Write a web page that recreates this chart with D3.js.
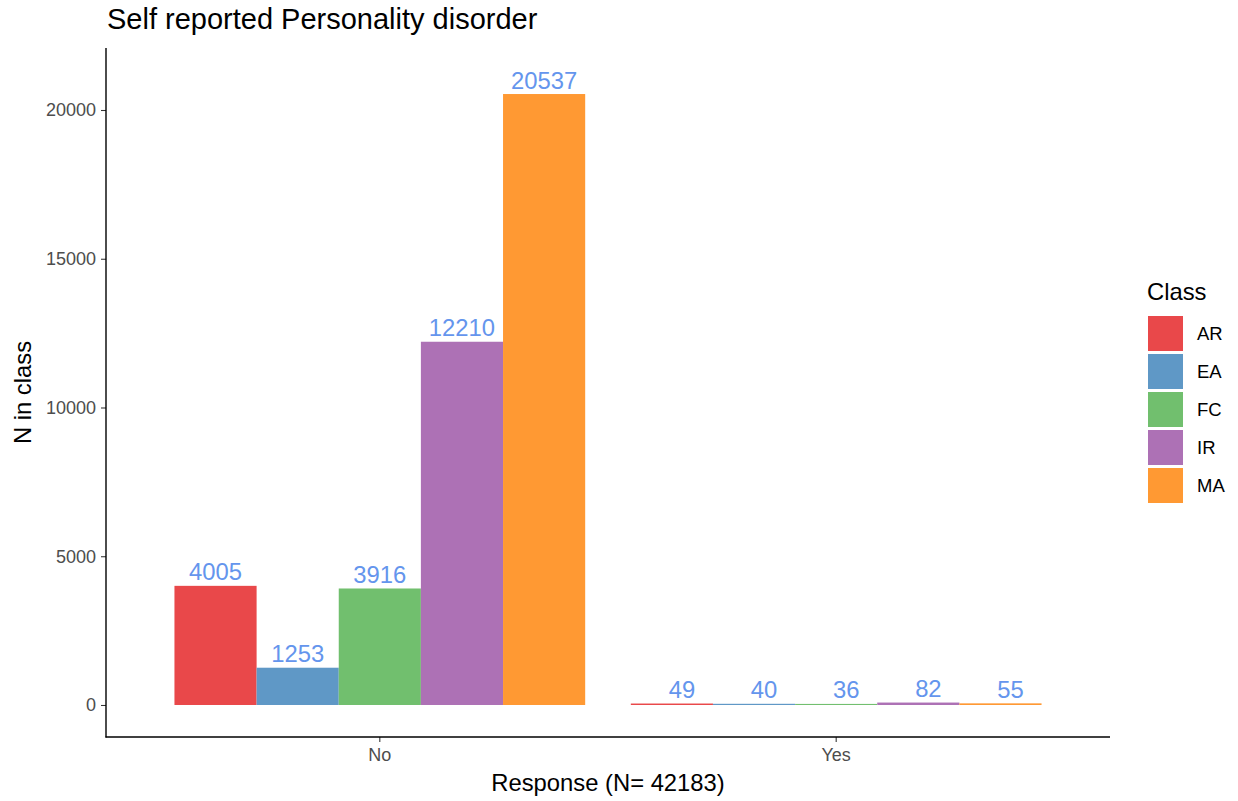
<!DOCTYPE html>
<html>
<head>
<meta charset="utf-8">
<script src="https://cdn.jsdelivr.net/npm/d3@7"></script>
<style>
  body { margin: 0; background: #fff; }
  text { font-family: "Liberation Sans", Arial, sans-serif; }
</style>
</head>
<body>
<svg id="chart" width="1238" height="801"></svg>
<script>
const responses = ["No", "Yes"];
const classes = ["AR", "EA", "FC", "IR", "MA"];
const valuesNo = [4005, 1253, 3916, 12210, 20537];
const valuesYes = [49, 40, 36, 82, 55];
const yTicks = [0, 5000, 10000, 15000, 20000];
const colors = ["#E9484A", "#5F98C6", "#71BF6E", "#AD71B5", "#FF9933"];
const labelNudge = [0, 0.022]; // horizontal label nudge per response group (fraction of band step)

(function () {
const data = [];
responses.forEach((r, i) => {
  const vals = i === 0 ? valuesNo : valuesYes;
  classes.forEach((c, j) => data.push({ response: r, ri: i, cls: c, value: vals[j] }));
});

const svg = d3.select("#chart");
const pLeft = 106, pRight = 1110, pTop = 48, pBottom = 737;

const x = d3.scaleBand().domain(responses).range([pLeft, pRight])
  .paddingInner(0.1).paddingOuter(0.15);
const xi = d3.scaleBand().domain(classes).range([0, x.bandwidth()]).padding(0);
const y = d3.scaleLinear().domain([-1076, 22084]).range([pBottom, pTop]);
const color = d3.scaleOrdinal().domain(classes).range(colors);

// bars
svg.append("g").selectAll("rect").data(data).join("rect")
  .attr("x", d => x(d.response) + xi(d.cls))
  .attr("width", xi.bandwidth())
  .attr("y", d => y(d.value))
  .attr("height", d => y(0) - y(d.value))
  .attr("fill", d => color(d.cls));

// labels
svg.append("g").selectAll("text").data(data).join("text")
  .attr("x", d => x(d.response) + xi(d.cls) + xi.bandwidth() / 2 + labelNudge[d.ri] * x.step())
  .attr("y", d => y(d.value) - 5.5)
  .attr("text-anchor", "middle")
  .attr("font-size", 23.8)
  .attr("fill", "#6495ED")
  .text(d => d.value);

// y axis
const yAxis = svg.append("g").attr("transform", `translate(${pLeft},0)`)
  .call(d3.axisLeft(y).tickValues(yTicks).tickSize(5).tickPadding(5).tickFormat(d3.format("d")));
yAxis.select(".domain").remove();
yAxis.selectAll(".tick line").attr("stroke", "#333").attr("stroke-width", 1.07);
yAxis.selectAll(".tick text").attr("font-size", 18).attr("fill", "#4d4d4d")
  .attr("font-family", "Liberation Sans, Arial, sans-serif");
svg.append("line").attr("x1", pLeft).attr("x2", pLeft).attr("y1", pTop).attr("y2", pBottom + 0.5)
  .attr("stroke", "#000").attr("stroke-width", 1.4);

// x axis
const xAxis = svg.append("g").attr("transform", `translate(0,${pBottom})`)
  .call(d3.axisBottom(x).tickSize(5).tickPadding(6));
xAxis.select(".domain").remove();
xAxis.selectAll(".tick line").attr("stroke", "#333").attr("stroke-width", 1.07);
xAxis.selectAll(".tick text").attr("font-size", 18).attr("fill", "#4d4d4d")
  .attr("font-family", "Liberation Sans, Arial, sans-serif");
svg.append("line").attr("x1", pLeft - 0.5).attr("x2", pRight).attr("y1", pBottom).attr("y2", pBottom)
  .attr("stroke", "#000").attr("stroke-width", 1.4);

// titles
svg.append("text").attr("x", 107).attr("y", 29).attr("font-size", 29).attr("fill", "#000")
  .text("Self reported Personality disorder");
svg.append("text").attr("x", (pLeft + pRight) / 2).attr("y", 791).attr("text-anchor", "middle")
  .attr("font-size", 23.8).attr("fill", "#000").text("Response (N= 42183)");
svg.append("text").attr("transform", `translate(31,${(pTop + pBottom) / 2}) rotate(-90)`)
  .attr("text-anchor", "middle").attr("font-size", 23.8).attr("fill", "#000").text("N in class");

// legend
const lg = svg.append("g").attr("transform", "translate(1147,0)");
lg.append("text").attr("x", 0).attr("y", 300).attr("font-size", 23.8).attr("fill", "#000").text("Class");
classes.forEach((c, i) => {
  const ky = 316 + i * 38;
  lg.append("rect").attr("x", 1).attr("y", ky).attr("width", 35).attr("height", 35)
    .attr("fill", color(c));
  lg.append("text").attr("x", 50).attr("y", ky + 17.5).attr("dy", "0.35em")
    .attr("font-size", 18.5).attr("fill", "#000").text(c);
});
})();
</script>
</body>
</html>
